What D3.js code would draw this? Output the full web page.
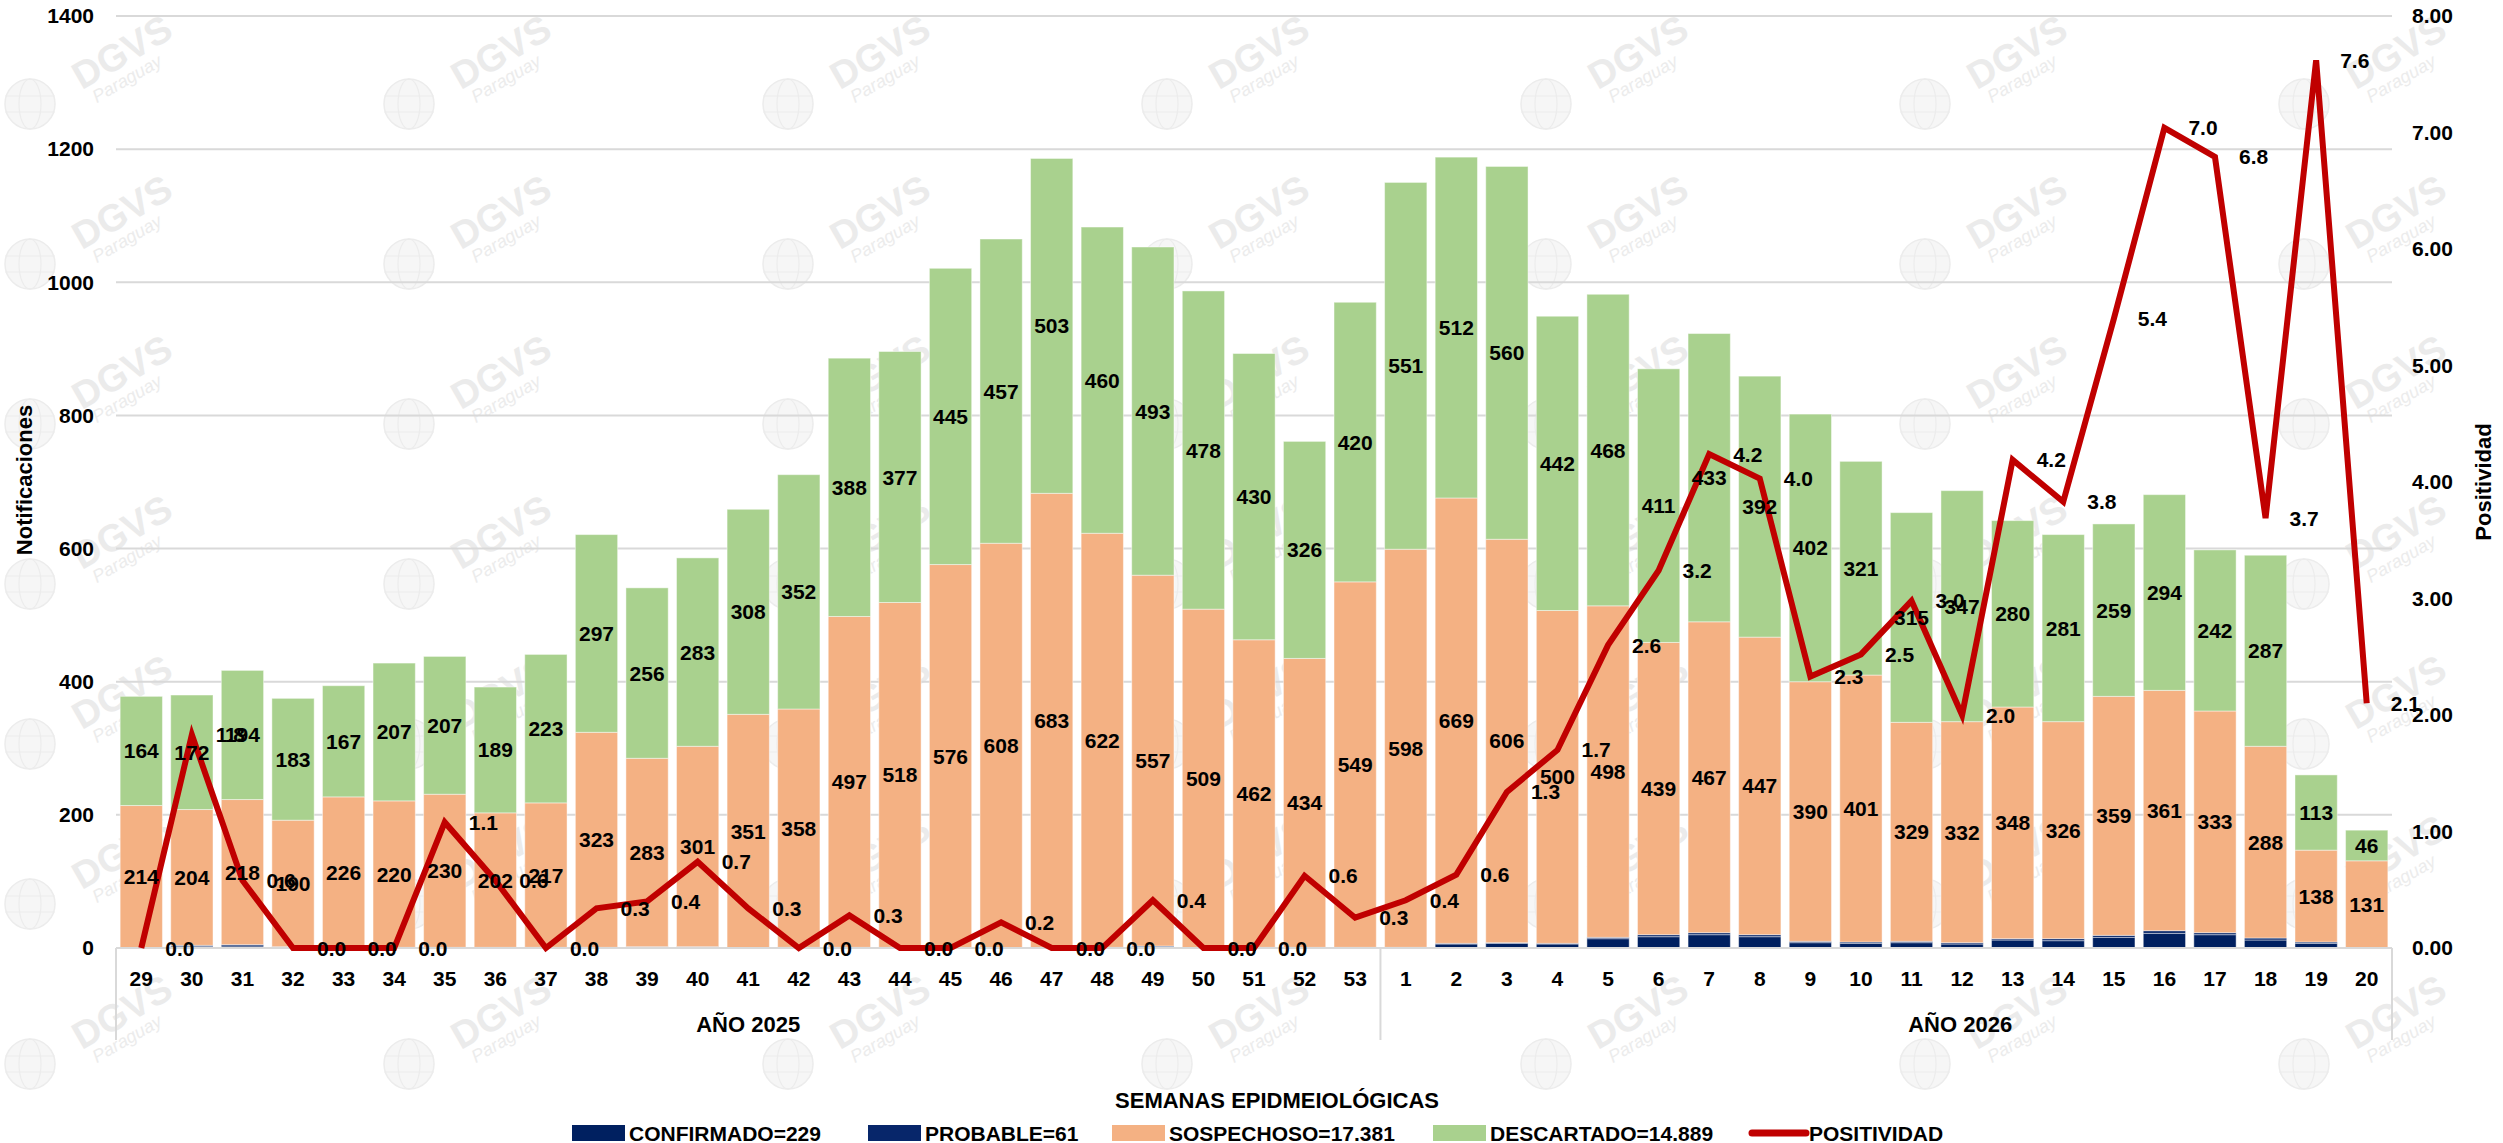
<!DOCTYPE html>
<html>
<head>
<meta charset="utf-8">
<script src="https://cdn.jsdelivr.net/npm/d3@7"></script>
<style>
    body { margin: 0; background: #fff; }
    svg { display: block; font-family: "Liberation Sans", Arial, sans-serif; font-weight: bold; }
</style>
</head>
<body>
<svg id="chart" width="2503" height="1143"></svg>
<script>
// semanas epidemiologicas: 29..53 de 2025 y 1..20 de 2026
const weeks = ["29", "30", "31", "32", "33", "34", "35", "36", "37", "38", "39", "40", "41", "42", "43", "44", "45", "46", "47", "48", "49", "50", "51", "52", "53",
    "1", "2", "3", "4", "5", "6", "7", "8", "9", "10", "11", "12", "13", "14", "15", "16", "17", "18", "19", "20"];
const yearLabels = ["AÑO 2025", "AÑO 2026"];
const yearCounts = [25, 20];

const confirmado = [0, 2, 3, 1, 1, 0, 1, 0, 0, 0, 1, 1, 0, 0, 0, 0, 0, 0, 0, 0, 2, 0, 0, 0, 0,
    1, 6, 7, 6, 14, 17, 20, 17, 8, 7, 8, 6, 12, 11, 16, 22, 20, 12, 7, 0];
const probable = [0, 2, 2, 1, 0, 1, 0, 1, 1, 1, 1, 1, 0, 1, 1, 1, 0, 0, 0, 1, 1, 0, 1, 1, 1,
    0, 1, 1, 1, 2, 3, 3, 3, 2, 2, 2, 2, 2, 3, 3, 4, 3, 3, 2, 0];
const sospechoso = [214, 204, 218, 190, 226, 220, 230, 202, 217, 323, 283, 301, 351, 358, 497, 518, 576, 608, 683, 622, 557, 509, 462, 434, 549,
    598, 669, 606, 500, 498, 439, 467, 447, 390, 401, 329, 332, 348, 326, 359, 361, 333, 288, 138, 131];
const descartado = [164, 172, 194, 183, 167, 207, 207, 189, 223, 297, 256, 283, 308, 352, 388, 377, 445, 457, 503, 460, 493, 478, 430, 326, 420,
    551, 512, 560, 442, 468, 411, 433, 392, 402, 321, 315, 347, 280, 281, 259, 294, 242, 287, 113, 46];
const positividad = [0, 1.83, 0.58, 0, 0, 0, 1.08, 0.58, 0, 0.34, 0.40, 0.74, 0.34, 0, 0.28, 0, 0, 0.22, 0, 0, 0.41, 0, 0, 0.62, 0.26,
    0.41, 0.63, 1.34, 1.7, 2.6, 3.24, 4.24, 4.03, 2.33, 2.52, 2.98, 2.0, 4.19, 3.83, 5.4, 7.04, 6.79, 3.69, 7.62, 2.1];

const leftTicks = [0, 200, 400, 600, 800, 1000, 1200, 1400];
const rightTicks = [0, 1, 2, 3, 4, 5, 6, 7, 8];

const legendItems = [
    { key: "confirmado", label: "CONFIRMADO=229" },
    { key: "probable", label: "PROBABLE=61" },
    { key: "sospechoso", label: "SOSPECHOSO=17.381" },
    { key: "descartado", label: "DESCARTADO=14.889" },
    { key: "positividad", label: "POSITIVIDAD" }
];

const colors = {
    confirmado: "#002060",
    probable: "#07266a",
    sospechoso: "#F4B183",
    descartado: "#A9D18E",
    positividad: "#C00000"
};

const svg = d3.select("#chart");
const plotLeft = 116, plotRight = 2392, plotTop = 16, plotBottom = 948;

const x = d3.scaleBand()
    .domain(d3.range(weeks.length))
    .range([plotLeft, plotRight])
    .paddingInner(0.164)
    .paddingOuter(0.082);
const y = d3.scaleLinear().domain([0, 1400]).range([plotBottom, plotTop]);
const y2 = d3.scaleLinear().domain([0, 8]).range([plotBottom, plotTop]);

// marca de agua (logo DGVS repetido)
function drawWatermarks() {
    const wm = svg.append("g").attr("class", "watermark");
    for (let cx = 122; cx < 2460; cx += 379) {
        for (let cy = 52; cy < 1080; cy += 160) {
            const g = wm.append("g").attr("transform", `translate(${cx},${cy})`);
            g.append("circle")
                .attr("cx", -92).attr("cy", 52).attr("r", 25)
                .attr("fill", "#f6f6f6").attr("stroke", "#ececec").attr("stroke-width", 1.5);
            g.append("ellipse")
                .attr("cx", -92).attr("cy", 52).attr("rx", 11).attr("ry", 25)
                .attr("fill", "none").attr("stroke", "#ececec").attr("stroke-width", 1.2);
            g.append("path")
                .attr("d", "M-117,44H-67M-117,60H-67")
                .attr("stroke", "#ececec").attr("stroke-width", 1.2);
            g.append("text")
                .attr("transform", "rotate(-30)")
                .attr("text-anchor", "middle")
                .attr("dominant-baseline", "central")
                .attr("font-size", 38)
                .attr("fill", "#ebebeb")
                .text("DGVS");
            g.append("text")
                .attr("transform", "translate(8,32) rotate(-30)")
                .attr("text-anchor", "middle")
                .attr("font-size", 18)
                .attr("font-style", "italic")
                .attr("font-weight", "normal")
                .attr("fill", "#ececec")
                .text("Paraguay");
        }
    }
}
drawWatermarks();

// lineas de cuadricula
svg.append("g")
    .selectAll("line")
    .data(leftTicks.slice(1))
    .join("line")
    .attr("x1", plotLeft).attr("x2", plotRight)
    .attr("y1", d => y(d)).attr("y2", d => y(d))
    .attr("stroke", "#d9d9d9")
    .attr("stroke-width", 2);

// barras apiladas
const rows = weeks.map((w, i) => ({
    confirmado: confirmado[i],
    probable: probable[i],
    sospechoso: sospechoso[i],
    descartado: descartado[i]
}));
const keys = ["confirmado", "probable", "sospechoso", "descartado"];
const series = d3.stack().keys(keys)(rows);

svg.append("g")
    .selectAll("g")
    .data(series)
    .join("g")
    .attr("fill", d => colors[d.key])
    .selectAll("rect")
    .data(d => d)
    .join("rect")
    .attr("x", (d, i) => x(i))
    .attr("width", x.bandwidth())
    .attr("y", d => y(d[1]))
    .attr("height", d => Math.max(0, y(d[0]) - y(d[1])))
    .attr("stroke", "#ffffff")
    .attr("stroke-opacity", 0.45)
    .attr("stroke-width", 1);

// eje x
svg.append("line")
    .attr("x1", plotLeft).attr("x2", plotRight)
    .attr("y1", plotBottom).attr("y2", plotBottom)
    .attr("stroke", "#d9d9d9").attr("stroke-width", 2);

const xAxis = svg.append("g")
    .attr("transform", `translate(0,${plotBottom})`)
    .call(d3.axisBottom(x).tickSize(0).tickPadding(23).tickFormat(i => weeks[i]));
xAxis.select(".domain").remove();
xAxis.selectAll("text")
    .attr("font-size", 21)
    .attr("font-family", "Liberation Sans, Arial, sans-serif")
    .attr("font-weight", "bold")
    .attr("fill", "#000");

// separadores de grupos de años
const step = x.step();
const groupEdges = [plotLeft];
let acc = 0;
yearCounts.forEach(c => { acc += c; groupEdges.push(plotLeft + acc * step); });
svg.append("g")
    .selectAll("line")
    .data(groupEdges)
    .join("line")
    .attr("x1", d => d).attr("x2", d => d)
    .attr("y1", plotBottom).attr("y2", 1040)
    .attr("stroke", "#d9d9d9").attr("stroke-width", 2);

// etiquetas de año (Excel las centra sobre el area de categorias extendida)
const yearLabelX = [(groupEdges[0] + groupEdges[1]) / 2, (groupEdges[1] + 2540) / 2];
svg.append("g")
    .selectAll("text")
    .data(yearLabels)
    .join("text")
    .attr("x", (d, i) => yearLabelX[i])
    .attr("y", 1024)
    .attr("text-anchor", "middle")
    .attr("dominant-baseline", "central")
    .attr("font-size", 22)
    .text(d => d);

// eje izquierdo
const yAxisL = svg.append("g")
    .attr("transform", `translate(${plotLeft},0)`)
    .call(d3.axisLeft(y).tickValues(leftTicks).tickSize(0).tickPadding(22).tickFormat(d3.format("d")));
yAxisL.select(".domain").remove();
yAxisL.selectAll("text")
    .attr("font-size", 21)
    .attr("font-family", "Liberation Sans, Arial, sans-serif")
    .attr("font-weight", "bold")
    .attr("fill", "#000");

// eje derecho
const yAxisR = svg.append("g")
    .attr("transform", `translate(${plotRight},0)`)
    .call(d3.axisRight(y2).tickValues(rightTicks).tickSize(0).tickPadding(20).tickFormat(d3.format(".2f")));
yAxisR.select(".domain").remove();
yAxisR.selectAll("text")
    .attr("font-size", 21)
    .attr("font-family", "Liberation Sans, Arial, sans-serif")
    .attr("font-weight", "bold")
    .attr("fill", "#000");

// titulos de ejes
svg.append("text")
    .attr("transform", "translate(24,480) rotate(-90)")
    .attr("text-anchor", "middle")
    .attr("dominant-baseline", "central")
    .attr("font-size", 22)
    .text("Notificaciones");
svg.append("text")
    .attr("transform", "translate(2483,482) rotate(-90)")
    .attr("text-anchor", "middle")
    .attr("dominant-baseline", "central")
    .attr("font-size", 22)
    .text("Positividad");

// linea de positividad
const line = d3.line()
    .x((d, i) => x(i) + x.bandwidth() / 2)
    .y(d => y2(d));
svg.append("path")
    .datum(positividad)
    .attr("fill", "none")
    .attr("stroke", colors.positividad)
    .attr("stroke-width", 6)
    .attr("stroke-linejoin", "miter")
    .attr("d", line);

// etiquetas de barras
const labelG = svg.append("g")
    .attr("font-size", 21)
    .attr("text-anchor", "middle")
    .attr("dominant-baseline", "central");

series.filter(s => s.key === "sospechoso" || s.key === "descartado").forEach(s => {
    labelG.append("g")
        .selectAll("text")
        .data(s)
        .join("text")
        .attr("x", (d, i) => x(i) + x.bandwidth() / 2)
        .attr("y", d => (y(d[0]) + y(d[1])) / 2)
        .text(d => d.data[s.key]);
});

// etiquetas de positividad (a la derecha del punto)
svg.append("g")
    .attr("font-size", 21)
    .attr("dominant-baseline", "central")
    .selectAll("text")
    .data(positividad)
    .join("text")
    .attr("x", (d, i) => x(i) + x.bandwidth() / 2 + 24)
    .attr("y", d => y2(d))
    .text(d => d.toFixed(1));

// titulo del eje x
svg.append("text")
    .attr("x", 1277).attr("y", 1100)
    .attr("text-anchor", "middle")
    .attr("dominant-baseline", "central")
    .attr("font-size", 22)
    .text("SEMANAS EPIDMEIOLÓGICAS");

// leyenda
const legendX = [572, 868, 1112, 1433, 1752];
const legend = svg.append("g")
    .selectAll("g")
    .data(legendItems)
    .join("g")
    .attr("transform", (d, i) => `translate(${legendX[i]},1133)`);
legend.each(function (d) {
    const g = d3.select(this);
    if (d.key === "positividad") {
        g.append("line")
            .attr("x1", 0).attr("x2", 54)
            .attr("y1", 0).attr("y2", 0)
            .attr("stroke", colors.positividad)
            .attr("stroke-width", 7)
            .attr("stroke-linecap", "round");
    } else {
        g.append("rect")
            .attr("x", 0).attr("y", -8)
            .attr("width", 53).attr("height", 16)
            .attr("fill", colors[d.key]);
    }
    g.append("text")
        .attr("x", 57)
        .attr("dominant-baseline", "central")
        .attr("font-size", 21)
        .text(d.label);
});
</script>
</body>
</html>
